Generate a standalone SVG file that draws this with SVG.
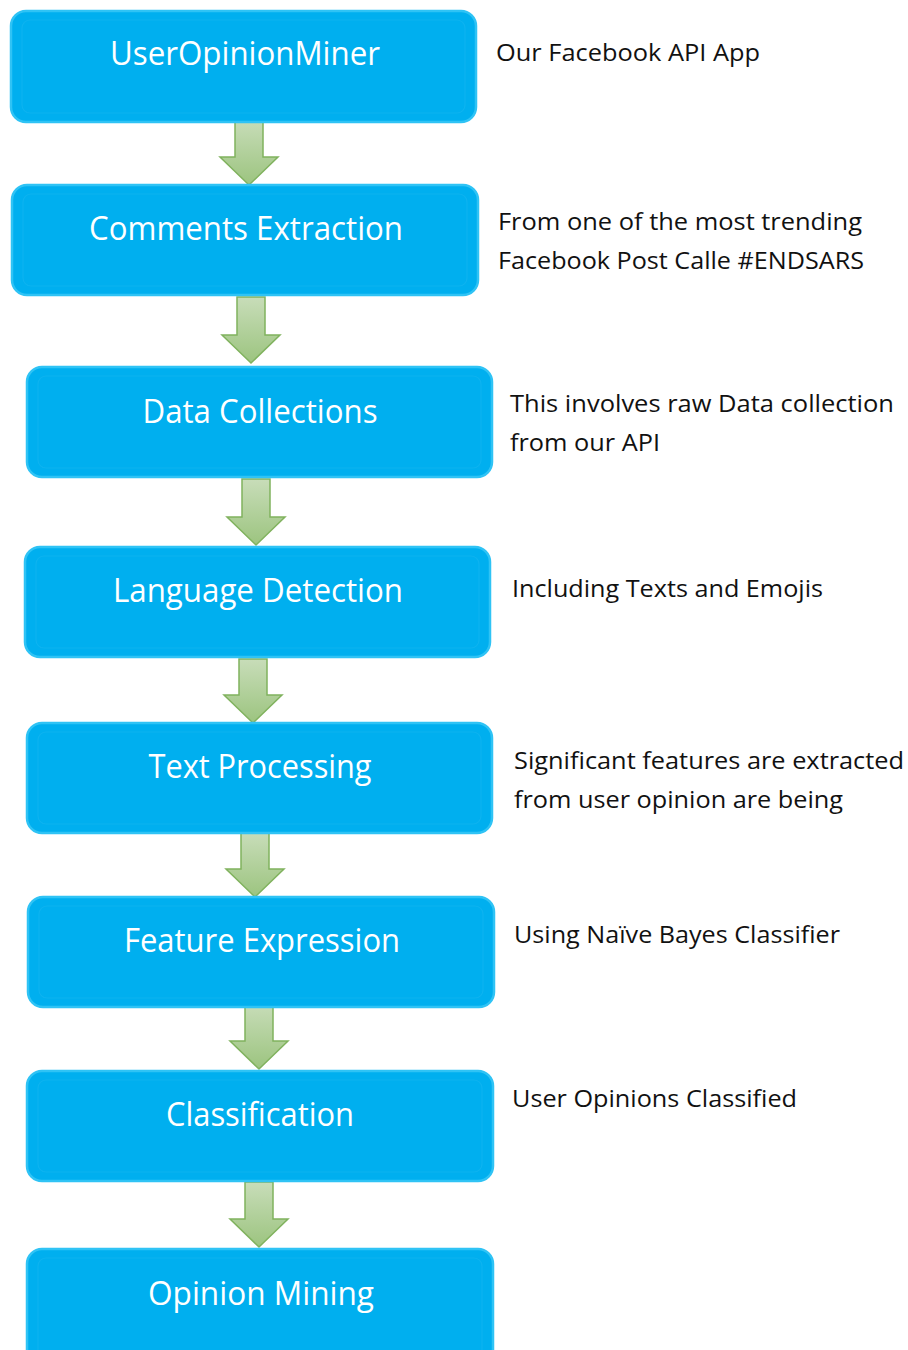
<svg xmlns="http://www.w3.org/2000/svg" width="908" height="1350" viewBox="0 0 908 1350">
  <style>
    .box { fill: #00AFEF; stroke: #2FC3F5; stroke-width: 2.5; }
    .inner { fill: none; stroke: #19B8F2; stroke-width: 1.2; opacity: 0.5; }
    .label { font-family: "Open Sans", "Liberation Sans", sans-serif; font-size: 32px; fill: #FFFFFF; text-anchor: middle; }
    .note { font-family: "Open Sans", "Liberation Sans", sans-serif; font-size: 23.5px; fill: #111111; }
    .arrow { fill: url(#arrowFill); stroke: #80B25E; stroke-width: 1.5; stroke-linejoin: miter; }
  </style>
  <defs>
    <linearGradient id="arrowFill" x1="0" y1="0" x2="0" y2="1">
      <stop offset="0" stop-color="#C8DDB9"/>
      <stop offset="1" stop-color="#9CC47F"/>
    </linearGradient>
  </defs>

  <rect width="908" height="1350" fill="#FFFFFF"/>

  <!-- connectors: block arrows between the stages -->
  <g id="connectors">
    <polygon class="arrow" points="235,119 263,119 263,157 278,157 249,185 220,157 235,157"/>
    <polygon class="arrow" points="237,297 265,297 265,335 280,335 251,363 222,335 237,335"/>
    <polygon class="arrow" points="242,479 270,479 270,517 285,517 256,545 227,517 242,517"/>
    <polygon class="arrow" points="239,659 267,659 267,695 282,695 253,723 224,695 239,695"/>
    <polygon class="arrow" points="241,833 269,833 269,869 284,869 255,897 226,869 241,869"/>
    <polygon class="arrow" points="245,1003 273,1003 273,1041 288,1041 259,1069 230,1041 245,1041"/>
    <polygon class="arrow" points="245,1182 273,1182 273,1219 288,1219 259,1247 230,1219 245,1219"/>
  </g>

  <g id="node-useropinionminer">
    <rect class="box" x="11" y="11" width="465" height="111" rx="15"/>
    <rect class="inner" x="22" y="20" width="443" height="93" rx="8"/>
    <text class="label" x="245" y="65" textLength="270" lengthAdjust="spacingAndGlyphs">UserOpinionMiner</text>
  </g>
  <text class="note" x="496" y="61" textLength="264" lengthAdjust="spacingAndGlyphs">Our Facebook API App</text>

  <g id="node-comments-extraction">
    <rect class="box" x="12" y="185" width="466" height="110" rx="15"/>
    <rect class="inner" x="23" y="194" width="444" height="92" rx="8"/>
    <text class="label" x="246" y="240" textLength="314" lengthAdjust="spacingAndGlyphs">Comments Extraction</text>
  </g>
  <text class="note" x="498" y="230" textLength="364" lengthAdjust="spacingAndGlyphs">From one of the most trending</text>
  <text class="note" x="498" y="269" textLength="366" lengthAdjust="spacingAndGlyphs">Facebook Post Calle #ENDSARS</text>

  <g id="node-data-collections">
    <rect class="box" x="27" y="367" width="465" height="110" rx="15"/>
    <rect class="inner" x="38" y="376" width="443" height="92" rx="8"/>
    <text class="label" x="260" y="423" textLength="235" lengthAdjust="spacingAndGlyphs">Data Collections</text>
  </g>
  <text class="note" x="510" y="412" textLength="384" lengthAdjust="spacingAndGlyphs">This involves raw Data collection</text>
  <text class="note" x="510" y="451" textLength="150" lengthAdjust="spacingAndGlyphs">from our API</text>

  <g id="node-language-detection">
    <rect class="box" x="25" y="547" width="465" height="110" rx="15"/>
    <rect class="inner" x="36" y="556" width="443" height="92" rx="8"/>
    <text class="label" x="258" y="602" textLength="290" lengthAdjust="spacingAndGlyphs">Language Detection</text>
  </g>
  <text class="note" x="512" y="597" textLength="311" lengthAdjust="spacingAndGlyphs">Including Texts and Emojis</text>

  <g id="node-text-processing">
    <rect class="box" x="27" y="723" width="465" height="110" rx="15"/>
    <rect class="inner" x="38" y="732" width="443" height="92" rx="8"/>
    <text class="label" x="260" y="778" textLength="223" lengthAdjust="spacingAndGlyphs">Text Processing</text>
  </g>
  <text class="note" x="514" y="769" textLength="390" lengthAdjust="spacingAndGlyphs">Significant features are extracted</text>
  <text class="note" x="514" y="808" textLength="329" lengthAdjust="spacingAndGlyphs">from user opinion are being</text>

  <g id="node-feature-expression">
    <rect class="box" x="28" y="897" width="466" height="110" rx="15"/>
    <rect class="inner" x="39" y="906" width="444" height="92" rx="8"/>
    <text class="label" x="262" y="952" textLength="276" lengthAdjust="spacingAndGlyphs">Feature Expression</text>
  </g>
  <text class="note" x="514" y="943" textLength="326" lengthAdjust="spacingAndGlyphs">Using Naïve Bayes Classifier</text>

  <g id="node-classification">
    <rect class="box" x="27" y="1071" width="466" height="110" rx="15"/>
    <rect class="inner" x="38" y="1080" width="444" height="92" rx="8"/>
    <text class="label" x="260" y="1126" textLength="188" lengthAdjust="spacingAndGlyphs">Classification</text>
  </g>
  <text class="note" x="512" y="1107" textLength="285" lengthAdjust="spacingAndGlyphs">User Opinions Classified</text>

  <g id="node-opinion-mining">
    <rect class="box" x="27" y="1249" width="466" height="125" rx="15"/>
    <rect class="inner" x="38" y="1258" width="444" height="107" rx="8"/>
    <text class="label" x="261" y="1305" textLength="226" lengthAdjust="spacingAndGlyphs">Opinion Mining</text>
  </g>
</svg>
